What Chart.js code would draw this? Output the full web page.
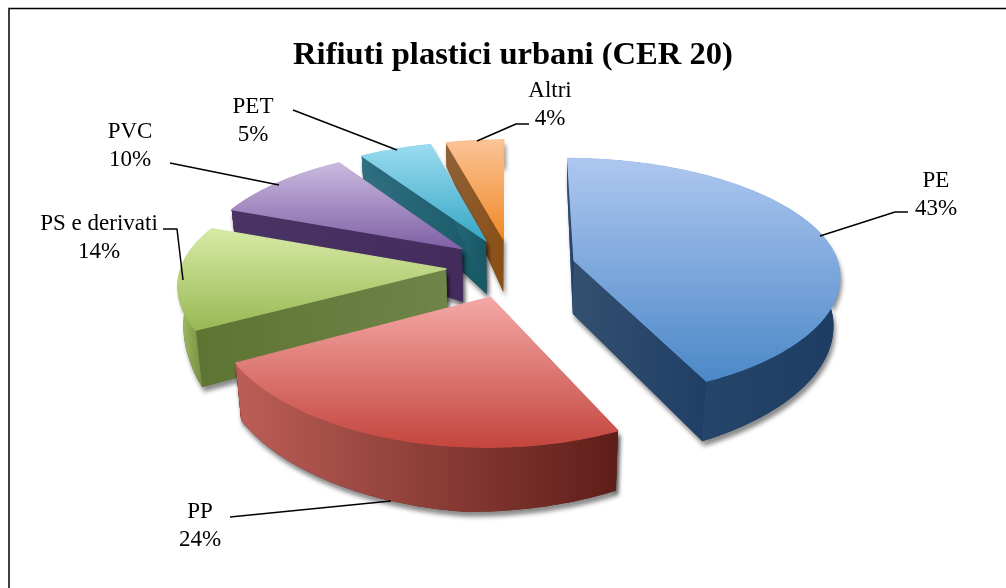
<!DOCTYPE html>
<html><head><meta charset="utf-8">
<style>html,body{margin:0;padding:0;background:#fff}#w{position:relative;width:1006px;height:588px}</style>
<script src="https://cdn.jsdelivr.net/npm/chart.js@4"></script>
</head><body><div id="w"><canvas id="c" width="1006" height="588"></canvas></div>
<script>
const titleText = 'Rifiuti plastici urbani (CER 20)';
const categories = ['PE','PP','PS e derivati','PVC','PET','Altri'];
const shares = [43,24,14,10,5,4];
const explode = [65,65,65,65,65,65];
const topLight = ['#AEC7F0','#F4A8A6','#D8EAA6','#CABADF','#9ADCF0','#FBC396'];
const topDark  = ['#4C88C8','#C4463E','#98B954','#7F60A5','#38A7C5','#F08A28'];
const sideLeft = ['#2E4C72','#BC5E57','#A6C364','#4A3463','#316F82','#8F6138'];
const sideRight= ['#1D3D63','#5E1E19','#5E7332','#432C5B','#175865','#8A5015'];
const cutLeft  = ['#34506F','#7C2C26','#5E7432','#4A3463','#316F82','#8F6138'];
const cutRight = ['#203F66','#6A231E','#6F8449','#432C5B','#175865','#8A5015'];

// label layout: centre x, first baseline; leader polyline
const labelPos = [[936,187],[200,518],[99,230],[130,138],[253,113],[550,97]];
const leaders = [
 [[820,236],[895,212],[908,212]],
 [[230,517],[391,501]],
 [[163,229],[177,229],[183,280]],
 [[170,163],[279,185]],
 [[293,110],[397,150]],
 [[477,141],[516,124],[529,124]]
];

// view model of the tilted pie
const CX=511, CY=267, RX=265, RY=250;
const depthApex=53;
const depthOuterTable=[[0,25],[90,48],[155,60],[185,65],[241,57],[291.6,22],[360,25]];
function depthOuter(deg){
  deg=((deg%360)+360)%360;
  for(let i=1;i<depthOuterTable.length;i++){
    const a=depthOuterTable[i-1],b=depthOuterTable[i];
    if(deg<=b[0]) return a[1]+(b[1]-a[1])*(deg-a[0])/(b[0]-a[0]);
  }
  return 25;
}
function project(u,v){
  const k = 1/(1-0.00046*v);
  const dy = v>=0 ? 0.47*v/(1-0.0006*v) : 0.45*v/(1-0.00036*v);
  return [CX+k*u, CY+dy];
}
function lower(p,d){ return [CX+(p[0]-CX)*(1-0.02*Math.min(1,d/50)), p[1]+d]; }
function poly(ctx,pts){ctx.beginPath();pts.forEach((p,i)=>i?ctx.lineTo(p[0],p[1]):ctx.moveTo(p[0],p[1]));ctx.closePath();}
function hGrad(ctx,pts,a,b){
  const xs=pts.map(p=>p[0]);const g=ctx.createLinearGradient(Math.min(...xs),0,Math.max(...xs),0);
  g.addColorStop(0,a);g.addColorStop(1,b);return g;
}

// Paint each pie element in perspective from the angles the library computed for it
Chart.ArcElement.prototype.draw = function(ctx){
  const i=this.$context.index;
  const s=this.startAngle, e=this.endAngle, m=(s+e)/2, D=this.options.offset;
  const ou=D*Math.cos(m), ov=D*Math.sin(m);
  const steps=Math.max(4,Math.ceil((e-s)*180/Math.PI));
  const apex=project(ou,ov), outer=[], outerB=[];
  for(let n=0;n<=steps;n++){
    const a=s+(e-s)*n/steps;
    const p=project(ou+RX*Math.cos(a),ov+RY*Math.sin(a));
    outer.push(p);
    outerB.push(lower(p,depthOuter((a+Math.PI/2)*180/Math.PI)));
  }
  const apexB=lower(apex,depthApex);
  const wallStart=[apex,outer[0],outerB[0],apexB];
  const wallEnd=[apex,outer[steps],outerB[steps],apexB];
  const wallArc=outer.concat(outerB.slice().reverse());

  ctx.save();
  ctx.shadowColor='rgba(0,0,0,0.45)';ctx.shadowBlur=4;ctx.shadowOffsetX=2;ctx.shadowOffsetY=5;
  ctx.fillStyle=sideRight[i];
  [wallStart,wallEnd,wallArc].forEach(w=>{poly(ctx,w);ctx.fill();});
  ctx.restore();

  ctx.fillStyle=hGrad(ctx,wallStart,cutLeft[i],cutRight[i]);poly(ctx,wallStart);ctx.fill();
  ctx.fillStyle=hGrad(ctx,wallEnd,cutLeft[i],cutRight[i]);poly(ctx,wallEnd);ctx.fill();
  ctx.fillStyle=hGrad(ctx,wallArc,sideLeft[i],sideRight[i]);poly(ctx,wallArc);ctx.fill();

  const face=[apex].concat(outer);
  const ys=face.map(p=>p[1]);
  const g=ctx.createLinearGradient(0,Math.min(...ys),0,Math.max(...ys));
  g.addColorStop(0,topLight[i]);g.addColorStop(1,topDark[i]);
  ctx.fillStyle=g;ctx.strokeStyle=g;ctx.lineWidth=1.2;ctx.lineJoin='round';
  poly(ctx,face);ctx.fill();ctx.stroke();
};

const pie3d={id:'pie3d',
  beforeDraw(chart){
    const c=chart.ctx;c.save();c.strokeStyle='#000';c.lineWidth=1.5;
    c.beginPath();c.moveTo(9,588);c.lineTo(9,8.5);c.lineTo(1006,8.5);c.stroke();c.restore();
  },
  beforeDatasetsDraw(chart){
    const meta=chart.getDatasetMeta(0), c=chart.ctx;
    for(let i=meta.data.length-1;i>=0;i--) meta.data[i].draw(c);
    return false;
  },
  afterDraw(chart){
    const c=chart.ctx;c.save();
    c.strokeStyle='#000';c.lineWidth=1.5;
    leaders.forEach(l=>{c.beginPath();l.forEach((p,i)=>i?c.lineTo(p[0],p[1]):c.moveTo(p[0],p[1]));c.stroke();});
    c.fillStyle='#000';c.font='23px "Liberation Serif"';c.textAlign='center';c.textBaseline='alphabetic';
    categories.forEach((t,i)=>{
      c.fillText(t,labelPos[i][0],labelPos[i][1]);
      c.fillText(shares[i]+'%',labelPos[i][0],labelPos[i][1]+28);
    });
    c.restore();
  }
};

new Chart(document.getElementById('c'),{
  type:'pie',
  data:{labels:categories,datasets:[{data:shares,offset:explode,backgroundColor:topDark,borderWidth:0}]},
  options:{
    responsive:false,animation:false,rotation:0,
    layout:{padding:{left:20,top:0,right:0,bottom:0}},
    plugins:{
      legend:{display:false},tooltip:{enabled:false},
      title:{display:true,text:titleText,color:'#000',padding:{top:36,bottom:10},
        font:{family:'"Liberation Serif"',size:32.6,weight:'bold'}}
    }
  },
  plugins:[pie3d]
});
</script></body></html>
